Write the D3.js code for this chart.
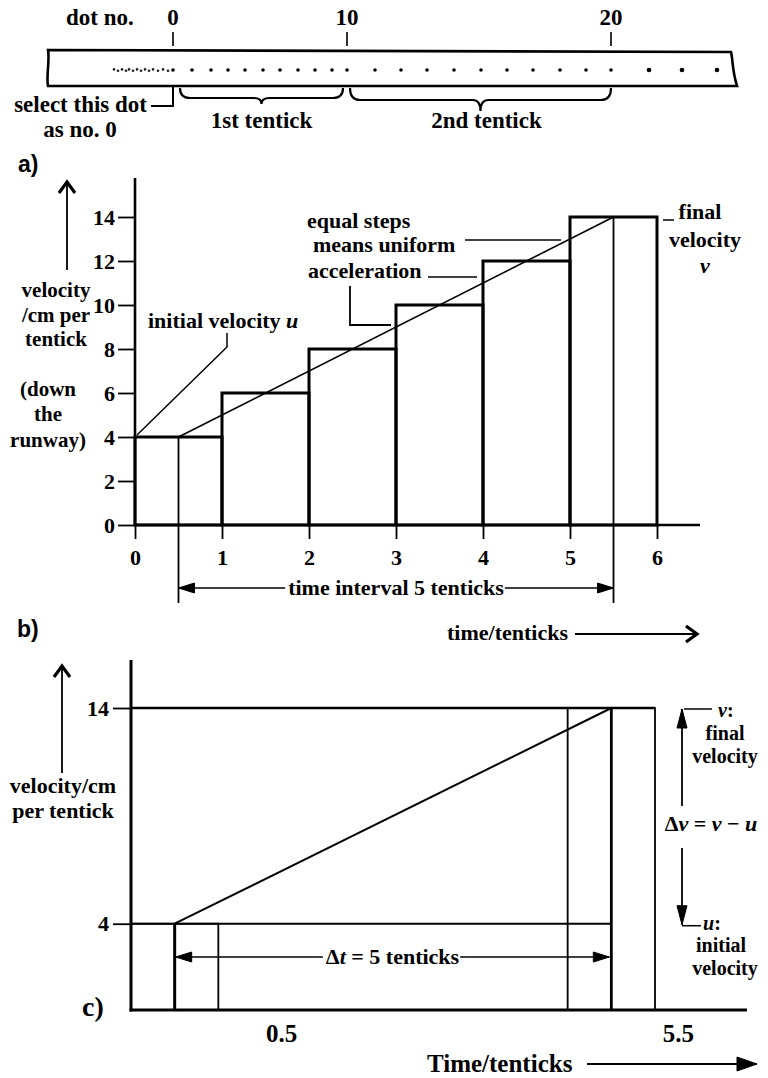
<!DOCTYPE html>
<html>
<head>
<meta charset="utf-8">
<script src="https://cdn.jsdelivr.net/npm/d3@7"></script>
<style>
    body { margin: 0; background: #fff; }
    svg { display: block; }
    text { font-family: "Liberation Serif", "Times New Roman", serif; font-weight: bold; fill: #000; }
</style>
</head>
<body>
<svg id="chart"></svg>
<script>
// ticker tape: distance of each dot from dot no. 0 (cm)
const dotPos = [0, 1.9, 3.8, 5.5, 7.2, 9.0, 10.7, 12.5, 14.2, 15.9, 17.4,
    20.2, 22.8, 25.4, 28.1, 30.8, 33.4, 36.0, 38.7, 41.3, 43.8,
    47.6, 50.9, 54.4];
const smudgePos = [-5.9, -5.5, -5.1, -4.7, -4.4, -4.0, -3.6, -3.2, -2.8, -2.4, -2.0, -1.5, -1.0, -0.5];
const dotLabels = [0, 10, 20];
const tentickNames = ["1st tentick", "2nd tentick"];

// a) velocity in each tentick
const tentickStart = [0, 1, 2, 3, 4, 5];
const velocities = [4, 6, 8, 10, 12, 14];
const yTicksA = [0, 2, 4, 6, 8, 10, 12, 14];
const xTicksA = [0, 1, 2, 3, 4, 5, 6];
const yLabelA = ["velocity", "/cm per", "tentick", "(down", "the", "runway)"];

// mid-points of first and last tentick
const midTimes = [0.5, 5.5];
const midVel = [4, 14];

// b) / c)
const yTicksB = [4, 14];
const xLabelsB = ["0.5", "5.5"];
const yLabelB = ["velocity/cm", "per tentick"];

const width = 768;
const height = 1078;

const svg = d3.select("#chart").attr("width", width).attr("height", height);
const defs = svg.append("defs");

function addMarker(id, path, filled, sw) {
    defs.append("marker")
        .attr("id", id)
        .attr("markerUnits", "userSpaceOnUse")
        .attr("viewBox", "-24 -12 28 24")
        .attr("markerWidth", 28)
        .attr("markerHeight", 24)
        .attr("refX", 0)
        .attr("refY", 0)
        .attr("orient", "auto")
        .append("path")
        .attr("d", path)
        .attr("fill", filled ? "#000" : "none")
        .attr("stroke", "#000")
        .attr("stroke-width", sw)
        .attr("stroke-linejoin", "miter");
}
addMarker("tri", "M0,0L-16,-5L-16,5Z", true, 1);
addMarker("triLong", "M0,0L-19,-5L-19,5Z", true, 1);
addMarker("triBig", "M0,0L-20,-7L-20,7Z", true, 1);
addMarker("chev", "M-12,-8L-1,0L-12,8", false, 3.2);

function line(x1, y1, x2, y2, sw, mark) {
    const l = svg.append("line")
        .attr("x1", x1).attr("y1", y1)
        .attr("x2", x2).attr("y2", y2)
        .attr("stroke", "#000")
        .attr("stroke-width", sw)
        .attr("stroke-linecap", "butt");
    if (mark) l.attr("marker-end", "url(#" + mark + ")");
    return l;
}

function label(x, y, str, size, anchor) {
    return svg.append("text")
        .attr("x", x)
        .attr("y", y)
        .attr("text-anchor", anchor || "start")
        .style("font-size", size + "px")
        .text(str);
}

// double headed arrow interrupted by a centred text
function splitArrow(x1, x2, y, text, size, mark) {
    const t = label((x1 + x2) / 2, y + 7, "", size, "middle");
    text(t);
    const w = t.node().getComputedTextLength();
    const mid = (x1 + x2) / 2;
    line(mid - w / 2 - 3, y, x1, y, 1.6, mark);
    line(mid + w / 2 + 1, y, x2, y, 1.6, mark);
}

/* ---------------- ticker tape ---------------- */
const tapeX = d3.scaleLinear().domain([0, 10]).range([173, 273]);

svg.append("path")
    .attr("d", "M48,50 L731,52 C733,60 732,70 737,86 L48,86 C46,76 50,60 48,50 Z")
    .attr("fill", "none")
    .attr("stroke", "#000")
    .attr("stroke-width", 2.6);

svg.append("g").selectAll("circle")
    .data(dotPos)
    .enter()
    .append("circle")
    .attr("cx", function (d) { return tapeX(d); })
    .attr("cy", 70)
    .attr("r", function (d, i) { return i > 20 ? 2.3 : 1.8; })
    .attr("fill", "#000");

svg.append("g").selectAll("circle")
    .data(smudgePos)
    .enter()
    .append("circle")
    .attr("cx", function (d) { return tapeX(d); })
    .attr("cy", function (d, i) { return 70 + (i % 2 ? 0.8 : -0.6); })
    .attr("r", 1.3)
    .attr("fill", "#222");

label(66, 25, "dot no.", 23);

svg.append("g").selectAll("text")
    .data(dotLabels)
    .enter()
    .append("text")
    .attr("x", function (d) { return tapeX(dotPos[d]); })
    .attr("y", 25)
    .attr("text-anchor", "middle")
    .style("font-size", "23px")
    .text(function (d) { return d; });

svg.append("g").selectAll("line")
    .data(dotLabels)
    .enter()
    .append("line")
    .attr("x1", function (d) { return tapeX(dotPos[d]); })
    .attr("x2", function (d) { return tapeX(dotPos[d]); })
    .attr("y1", 32)
    .attr("y2", 46)
    .attr("stroke", "#000")
    .attr("stroke-width", 1.6);

// braces under the tape
tentickNames.forEach(function (name, i) {
    const x1 = tapeX(dotPos[i * 10]) + (i === 0 ? 7 : 3);
    const x2 = tapeX(dotPos[i * 10 + 10]) - (i === 0 ? 4 : 0);
    const mid = (x1 + x2) / 2;
    const y0 = 88;
    const y1 = i === 0 ? 98 : 100;
    const tip = i === 0 ? 104 : 111;
    svg.append("path")
        .attr("d", "M" + x1 + "," + y0 +
            " Q" + x1 + "," + y1 + " " + (x1 + 10) + "," + y1 +
            " L" + (mid - 8) + "," + y1 +
            " Q" + mid + "," + y1 + " " + mid + "," + tip +
            " Q" + mid + "," + y1 + " " + (mid + 8) + "," + y1 +
            " L" + (x2 - 10) + "," + y1 +
            " Q" + x2 + "," + y1 + " " + x2 + "," + y0)
        .attr("fill", "none")
        .attr("stroke", "#000")
        .attr("stroke-width", 2.2);
    label(mid + (i === 0 ? 0 : 6), 128, name, 23, "middle");
});

label(147, 112, "select this dot", 23, "end");
label(80, 137, "as no. 0", 23, "middle");
svg.append("path")
    .attr("d", "M151,106 L" + tapeX(0) + ",106 L" + tapeX(0) + ",86")
    .attr("fill", "none")
    .attr("stroke", "#000")
    .attr("stroke-width", 2);

/* ---------------- a) ---------------- */
svg.append("text")
    .attr("x", 18).attr("y", 172)
    .style("font-family", "'Liberation Sans', Arial, sans-serif")
    .style("font-size", "23px")
    .text("a)");

const xA = d3.scaleLinear().domain([0, 6]).range([135, 657]);
const yA = d3.scaleLinear().domain([0, 14]).range([525, 217]);

const yAxisA = svg.append("g")
    .attr("transform", "translate(" + xA(0) + ",0)")
    .call(d3.axisLeft(yA).tickValues(yTicksA).tickFormat(d3.format("d")).tickSize(17).tickPadding(3));
const xAxisA = svg.append("g")
    .attr("transform", "translate(0," + yA(0) + ")")
    .call(d3.axisBottom(xA).tickValues(xTicksA).tickFormat(d3.format("d")).tickSize(14).tickPadding(10));

[yAxisA, xAxisA].forEach(function (g) {
    g.select(".domain").remove();
    g.selectAll(".tick line").attr("stroke-width", 1.8);
    g.selectAll(".tick text")
        .style("font-family", "'Liberation Serif', serif")
        .style("font-weight", "bold")
        .style("font-size", "22px")
        .attr("fill", "#000");
});

line(xA(0), yA(0), xA(0), 178, 2.6);
line(xA(0), yA(0), 700, yA(0), 2.4);

// velocity steps
svg.append("g").selectAll("rect")
    .data(velocities)
    .enter()
    .append("rect")
    .attr("x", function (d, i) { return xA(tentickStart[i]); })
    .attr("y", function (d) { return yA(d); })
    .attr("width", xA(1) - xA(0))
    .attr("height", function (d) { return yA(0) - yA(d); })
    .attr("fill", "none")
    .attr("stroke", "#000")
    .attr("stroke-width", 3);

// uniform acceleration line
const meanPts = midTimes.map(function (t, i) { return [t, midVel[i]]; });
svg.append("path")
    .datum(meanPts)
    .attr("d", d3.line().x(function (d) { return xA(d[0]); }).y(function (d) { return yA(d[1]); }))
    .attr("fill", "none")
    .attr("stroke", "#000")
    .attr("stroke-width", 1.6);

meanPts.forEach(function (p) {
    line(xA(p[0]), yA(p[1]), xA(p[0]), 603, 1.8);
});

splitArrow(xA(midTimes[0]), xA(midTimes[1]), 588, function (t) {
    t.text("time interval 5 tenticks");
}, 22, "tri");

label(447, 640, "time/tenticks", 22);
line(575, 634, 698, 634, 1.8, "chev");

// vertical axis label and arrow
line(67, 270, 67, 181, 1.8, "chev");
yLabelA.forEach(function (s, i) {
    const base = [297, 322, 346, 396, 421, 447][i];
    label(i < 3 ? 56 : 48, base, s, 21, "middle");
});

// annotations
const initLabel = label(148, 328, "initial velocity ", 22);
initLabel.append("tspan").style("font-style", "italic").text("u");
svg.append("path")
    .attr("d", "M" + (xA(0) + 2) + "," + (yA(4) - 2) + " L227,347 L227,333")
    .attr("fill", "none")
    .attr("stroke", "#000")
    .attr("stroke-width", 1.5);

label(307, 228, "equal steps", 22);
label(313, 252, "means uniform", 22);
label(308, 278, "acceleration", 22);
line(465, 240, xA(5) - 9, 240, 1.5);
line(428, 277, xA(4) - 6, 277, 1.5);
svg.append("path")
    .attr("d", "M350,286 L350,325 L" + (xA(3) - 5) + ",325")
    .attr("fill", "none")
    .attr("stroke", "#000")
    .attr("stroke-width", 1.8);

line(xA(6) + 6, yA(14) + 3, xA(6) + 17, yA(14) + 3, 1.5);
label(700, 219, "final", 22, "middle");
label(705, 247, "velocity", 22, "middle");
label(705, 273, "v", 22, "middle").style("font-style", "italic");

/* ---------------- b) / c) ---------------- */
svg.append("text")
    .attr("x", 17).attr("y", 637)
    .style("font-family", "'Liberation Sans', Arial, sans-serif")
    .style("font-size", "23px")
    .text("b)");

const xB = d3.scaleLinear().domain([0, 6]).range([131, 655]);
const yB = d3.scaleLinear().domain([0, 14]).range([1010, 708]);

const yAxisB = svg.append("g")
    .attr("transform", "translate(" + xB(0) + ",0)")
    .call(d3.axisLeft(yB).tickValues(yTicksB).tickSize(18).tickPadding(4));
yAxisB.select(".domain").remove();
yAxisB.selectAll(".tick line").attr("stroke-width", 1.8);
yAxisB.selectAll(".tick text")
    .style("font-family", "'Liberation Serif', serif")
    .style("font-weight", "bold")
    .style("font-size", "22px")
    .attr("fill", "#000");

line(xB(0), yB(0) + 1.5, xB(0), 660, 3);
line(xB(0) - 1.5, yB(0), 747, yB(0), 3);

// first and last tentick
[0, 5].forEach(function (i) {
    svg.append("rect")
        .attr("x", xB(tentickStart[i]))
        .attr("y", yB(velocities[i]))
        .attr("width", xB(1) - xB(0))
        .attr("height", yB(0) - yB(velocities[i]))
        .attr("fill", "none")
        .attr("stroke", "#000")
        .attr("stroke-width", 1.8);
});
line(xB(0), yB(14), xB(6), yB(14), 2.6);
line(xB(0), yB(4), xB(midTimes[1]), yB(4), 2);
line(xB(midTimes[0]), yB(midVel[0]), xB(midTimes[0]), yB(0), 3);
line(xB(midTimes[1]), yB(midVel[1]), xB(midTimes[1]), yB(0), 2.8);

svg.append("path")
    .datum(meanPts)
    .attr("d", d3.line().x(function (d) { return xB(d[0]); }).y(function (d) { return yB(d[1]); }))
    .attr("fill", "none")
    .attr("stroke", "#000")
    .attr("stroke-width", 2);

splitArrow(xB(midTimes[0]) + 1, xB(midTimes[1]) - 2, 957, function (t) {
    t.append("tspan").text("\u0394");
    t.append("tspan").style("font-style", "italic").text("t");
    t.append("tspan").text(" = 5 tenticks");
}, 22, "tri");

// delta v arrow
line(682, 806, 682, yB(14) + 1, 1.8, "triLong");
line(682, 848, 682, yB(4) + 1, 1.8, "triLong");
line(684, yB(14) + 1, 712, yB(14) + 1, 1.5);
line(682, yB(4) + 2, 701, yB(4) + 2, 1.5);

label(718, 717, "v", 20).style("font-style", "italic").append("tspan").style("font-style", "normal").text(":");
label(725, 740, "final", 20, "middle");
label(725, 763, "velocity", 20, "middle");

const dv = label(711, 831, "", 22, "middle");
dv.append("tspan").text("\u0394");
dv.append("tspan").style("font-style", "italic").text("v");
dv.append("tspan").text(" = ");
dv.append("tspan").style("font-style", "italic").text("v");
dv.append("tspan").text(" \u2212 ");
dv.append("tspan").style("font-style", "italic").text("u");

label(703, 930, "u", 20).style("font-style", "italic").append("tspan").style("font-style", "normal").text(":");
label(721, 952, "initial", 20, "middle");
label(725, 975, "velocity", 20, "middle");

// vertical axis label
line(62, 773, 62, 665, 1.8, "chev");
yLabelB.forEach(function (s, i) {
    label(63, 793 + i * 25, s, 22, "middle");
});

// c) time axis labels
const xLabelShift = [107, 67];
xLabelsB.forEach(function (s, i) {
    label(xB(midTimes[i]) + xLabelShift[i], 1042, s, 25, "middle");
});
label(427, 1072, "Time/tenticks", 25);
line(587, 1064, 757, 1064, 2, "triBig");

label(82, 1016, "c)", 28);
</script>
</body>
</html>
